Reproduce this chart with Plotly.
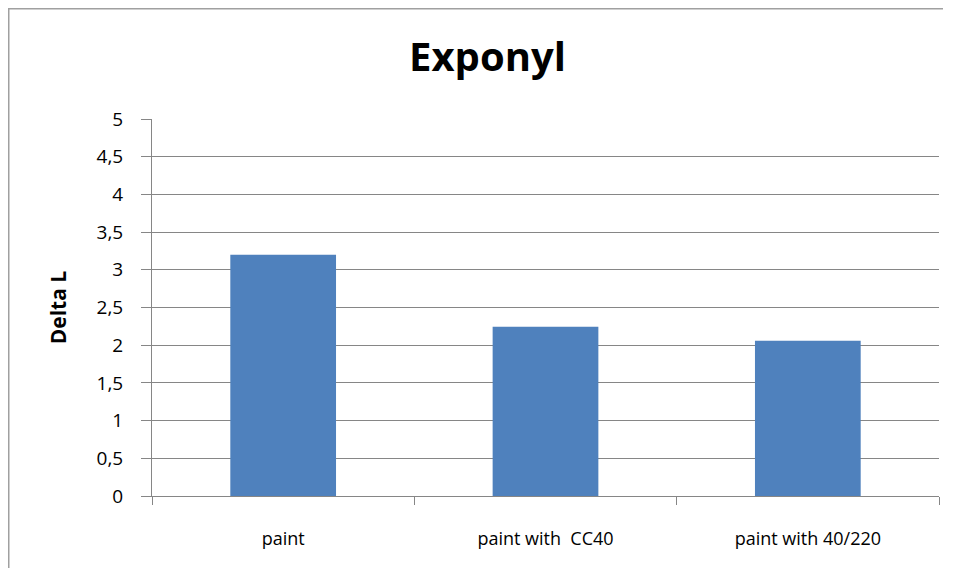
import plotly.graph_objects as go

categories = ["paint", "paint with  CC40", "paint with 40/220"]
delta_l = [3.2, 2.245, 2.06]
y_ticks = [0, 0.5, 1, 1.5, 2, 2.5, 3, 3.5, 4, 4.5, 5]
y_tick_labels = ["0", "0,5", "1", "1,5", "2", "2,5", "3", "3,5", "4", "4,5", "5"]

# page body has an 8px margin, so the figure is placed at (8, 8)
W, H = 935, 560
L, R, T, B = 144, 4, 111, 72
pw = W - L - R
ph = H - T - B

fig = go.Figure()
fig.add_trace(go.Bar(
    x=categories, y=delta_l,
    marker=dict(color="#4F81BD", line=dict(width=0)),
    width=0.403,
))

fig.update_layout(
    width=W, height=H,
    margin=dict(l=L, r=R, t=T, b=B, pad=0),
    paper_bgcolor="white", plot_bgcolor="white",
    showlegend=False,
    font=dict(family="Open Sans", color="#000000"),
    title=dict(text="<b>Exponyl</b>", x=(487.5 - 8) / W, xanchor="center",
               y=1 - 49 / H, yanchor="middle",
               font=dict(size=40, family="Open Sans", color="#000000")),
)
fig.update_xaxes(
    showgrid=False, showline=True, linecolor="#868686", linewidth=1,
    ticks="outside", tickson="boundaries", ticklen=8, tickcolor="#868686",
    tickfont=dict(size=18, family="Open Sans", color="#000000"),
    ticklabelstandoff=26,
)
fig.update_yaxes(
    range=[0, 5], tickvals=y_ticks, ticktext=y_tick_labels,
    showgrid=True, gridcolor="#868686", gridwidth=1,
    showline=True, linecolor="#868686", linewidth=1,
    ticks="outside", ticklen=10, tickcolor="#868686",
    tickfont=dict(size=19, family="Open Sans", color="#000000"),
    ticklabelstandoff=14,
    zeroline=False,
    title=dict(text="<b>Delta L</b>", font=dict(size=21, family="Open Sans", color="#000000"),
               standoff=24),
)

# outer chart border (left and top visible), kept inside the figure
bx = (0.75 - L) / pw
by = 1 + (T - 0.75) / ph
fig.add_shape(type="path", xref="paper", yref="paper",
              path=f"M {bx} {-B / ph} L {bx} {by} L {1 + R / ph * 0 + R / pw} {by}",
              line=dict(color="#A0A0A0", width=1.5))

fig.write_html("out.html")
